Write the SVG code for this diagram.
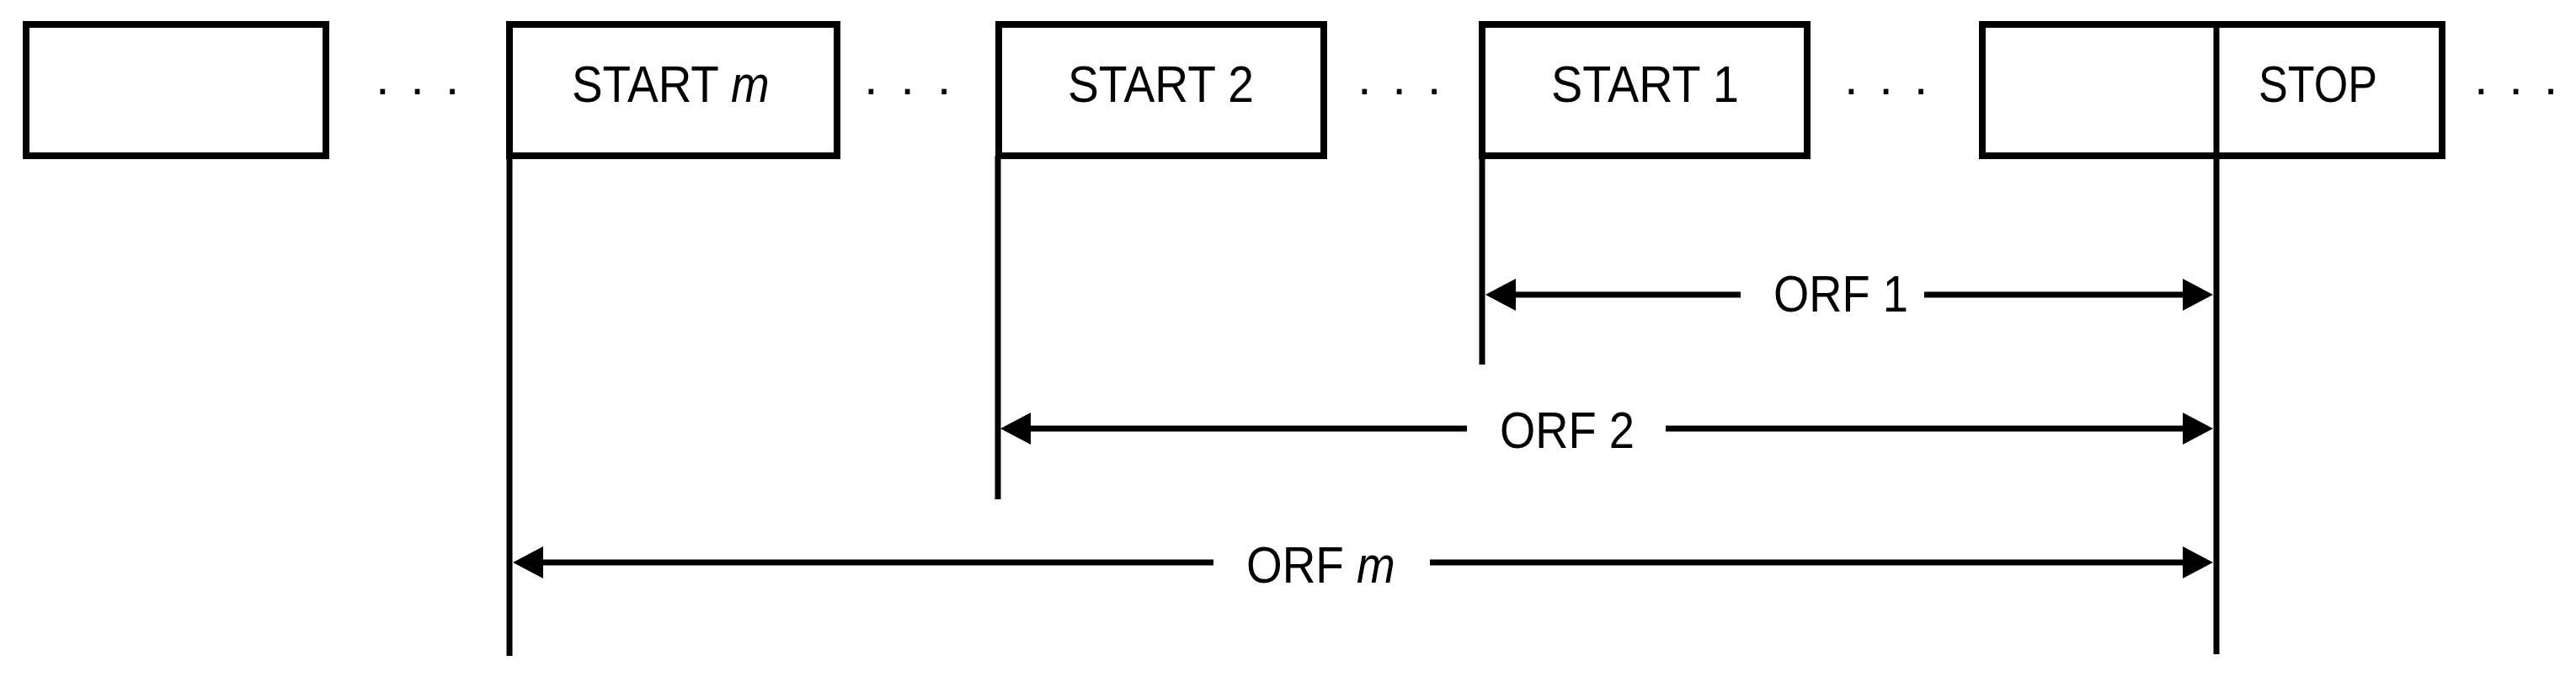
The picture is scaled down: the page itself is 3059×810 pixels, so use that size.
<svg xmlns="http://www.w3.org/2000/svg" width="3059" height="810" viewBox="0 0 3059 810">
<style>
.box{fill:#fff;stroke:#000;stroke-width:8}
.lbl{font-family:"Liberation Sans",Arial,sans-serif;font-size:61px;fill:#000}
.it{font-style:italic}
.dots{font-family:"Liberation Sans",Arial,sans-serif;font-size:60px;fill:#000;letter-spacing:4px}
.vl{stroke:#000;stroke-width:7;fill:none}
.hl{stroke:#000;stroke-width:7;fill:none}
.ls{marker-start:url(#ah)}
.le{marker-end:url(#ah)}
</style>
<defs>
<marker id="ah" markerUnits="userSpaceOnUse" markerWidth="40" markerHeight="40" viewBox="-1 -20 40 40" refX="0" refY="0" orient="auto-start-reverse">
<path d="M-1,-19 L35,0 L-1,19 z" fill="#000"/>
</marker>
</defs>
<rect width="3059" height="810" fill="#fff"/>

<g id="box0"><rect class="box" x="31" y="29" width="356" height="156"/></g>
<g id="dots1"><text class="dots" x="446" y="112">. . .</text></g>
<g id="startm"><rect class="box" x="605" y="29" width="389" height="156"/>
<text class="lbl" transform="translate(679,121) scale(0.9,1)">START <tspan class="it">m</tspan></text></g>
<g id="dots2"><text class="dots" x="1026" y="112" style="letter-spacing:5px">. . .</text></g>
<g id="start2"><rect class="box" x="1186" y="29" width="386" height="156"/>
<text class="lbl" x="1268" y="121" textLength="221" lengthAdjust="spacingAndGlyphs">START 2</text></g>
<g id="dots3"><text class="dots" x="1612" y="112">. . .</text></g>
<g id="start1"><rect class="box" x="1760" y="29" width="386" height="156"/>
<text class="lbl" x="1842" y="121" textLength="223" lengthAdjust="spacingAndGlyphs">START 1</text></g>
<g id="dots4"><text class="dots" x="2190" y="112">. . .</text></g>
<g id="stop"><rect class="box" x="2354" y="29" width="546" height="156"/>
<text class="lbl" x="2682" y="121" textLength="141" lengthAdjust="spacingAndGlyphs">STOP</text></g>
<g id="dots5"><text class="dots" x="2938" y="112">. . .</text></g>

<g id="connectors">
<line class="vl" x1="605" y1="185" x2="605" y2="779"/>
<line class="vl" x1="1185" y1="185" x2="1185" y2="593"/>
<line class="vl" x1="1760" y1="185" x2="1760" y2="433"/>
<line class="vl" x1="2632" y1="29" x2="2632" y2="777"/>

<line class="hl ls" x1="1799" y1="350" x2="2067" y2="350"/>
<line class="hl le" x1="2285" y1="350" x2="2593" y2="350"/>
<line class="hl ls" x1="1223" y1="509" x2="1742" y2="509"/>
<line class="hl le" x1="1978" y1="509" x2="2593" y2="509"/>
<line class="hl ls" x1="644" y1="668" x2="1441" y2="668"/>
<line class="hl le" x1="1698" y1="668" x2="2593" y2="668"/>
</g>

<g id="labels">
<text class="lbl" x="2106" y="370" textLength="160" lengthAdjust="spacingAndGlyphs">ORF 1</text>
<text class="lbl" x="1781" y="532" textLength="160" lengthAdjust="spacingAndGlyphs">ORF 2</text>
<text class="lbl" transform="translate(1480,692) scale(0.9,1)">ORF <tspan class="it">m</tspan></text>
</g>
</svg>
